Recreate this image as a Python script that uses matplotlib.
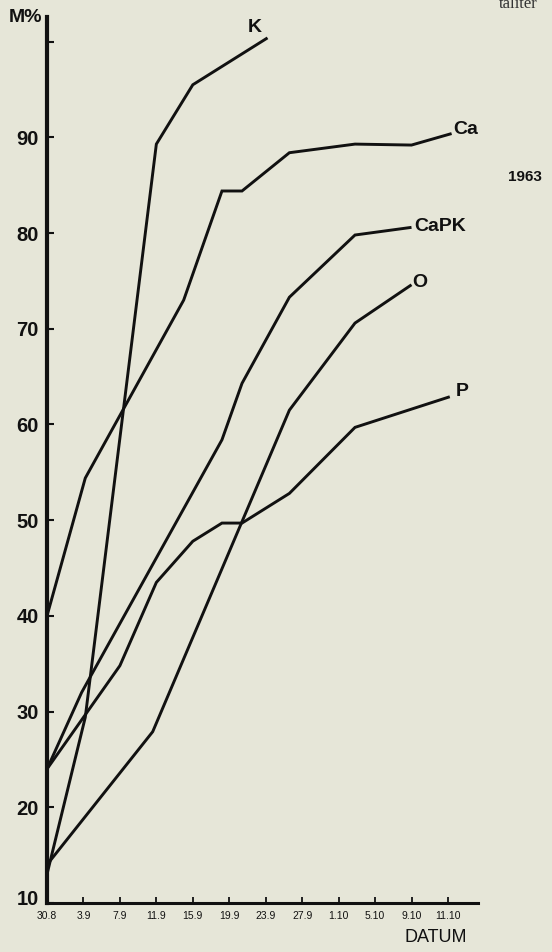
import matplotlib
matplotlib.use("Agg")
import matplotlib.pyplot as plt
from matplotlib.transforms import ScaledTranslation

# ---- data ----
dates = ["30.8", "3.9", "7.9", "11.9", "15.9", "19.9", "23.9", "27.9",
         "1.10", "5.10", "9.10", "11.10"]
y_ticks = [10, 20, 30, 40, 50, 60, 70, 80, 90, 100]
y_labels = ["10", "20", "30", "40", "50", "60", "70", "80", "90", ""]

k_x = [0, 1.05, 3.0, 4.0, 6.05]
k_y = [13.0, 29.4, 89.3, 95.5, 100.4]

ca_x = [0, 1.05, 3.75, 4.8, 5.35, 6.65, 8.45, 10.0, 11.1]
ca_y = [40.0, 54.4, 73.0, 84.4, 84.4, 88.4, 89.3, 89.2, 90.4]

capk_x = [0, 0.95, 4.8, 5.35, 6.65, 8.45, 10.0]
capk_y = [24.0, 32.0, 58.4, 64.3, 73.3, 79.8, 80.6]

o_x = [0, 2.9, 6.65, 8.45, 10.0]
o_y = [14.0, 27.9, 61.5, 70.6, 74.6]

p_x = [0, 2.0, 3.0, 4.0, 4.8, 5.35, 6.65, 8.45, 11.05]
p_y = [24.0, 34.8, 43.5, 47.8, 49.7, 49.7, 52.8, 59.7, 62.9]

series = [
    ("K", k_x, k_y, (-13, 10), "center"),
    ("Ca", ca_x, ca_y, (2, 4), "left"),
    ("CaPK", capk_x, capk_y, (3, 1), "left"),
    ("O", o_x, o_y, (1, 2), "left"),
    ("P", p_x, p_y, (6, 5), "left"),
]

# ---- figure ----
W, H = 552, 952
bg = "#e6e6d8"
ink = "#111111"
fig = plt.figure(figsize=(W / 100, H / 100), dpi=100, facecolor=bg)
font = "Liberation Sans"

left_px, right_px = 47, 478
bottom_px, top_px = 903, 17
ax = fig.add_axes([left_px / W, 1 - bottom_px / H,
                   (right_px - left_px) / W, (bottom_px - top_px) / H])
ax.set_facecolor(bg)
ax.patch.set_alpha(0)

x_span = (right_px - left_px) / 36.45
ax.set_xlim(0, x_span)
ax.set_ylim(10, 10 + (bottom_px - top_px) / 9.57)

for name, xs, ys, off, ha in series:
    ax.plot(xs, ys, color=ink, lw=2.1, solid_joinstyle="miter",
            solid_capstyle="butt", clip_on=False)
    ax.annotate(name, (xs[-1], ys[-1]), xytext=off, textcoords="offset pixels",
                ha=ha, va="center", fontsize=14, fontweight="bold",
                family=font, color=ink)

for s in ["top", "right"]:
    ax.spines[s].set_visible(False)
ax.spines["left"].set_linewidth(3.0)
ax.spines["bottom"].set_linewidth(2.2)
ax.spines["left"].set_color(ink)
ax.spines["bottom"].set_color(ink)

ax.set_yticks(y_ticks)
ax.set_yticklabels(y_labels, fontsize=14.5, fontweight="bold", family=font, color=ink)
ax.tick_params(axis="y", direction="in", length=5, width=1.5, pad=6, colors=ink)
lab10 = ax.get_yticklabels()[0]
lab10.set_transform(lab10.get_transform() + ScaledTranslation(0, 4 / 72, fig.dpi_scale_trans))

ax.set_xticks(list(range(len(dates))))
ax.set_xticklabels(dates, fontsize=7.5, family=font, color=ink)
ax.tick_params(axis="x", direction="in", length=4, width=1.3, pad=6, colors=ink)
ax.get_xticklines()[0].set_visible(False)

fig.text(25 / W, 1 - 17 / H, "M%", ha="center", va="center", fontsize=14,
         fontweight="bold", family=font, color=ink)
fig.text(436 / W, 1 - 938 / H, "DATUM", ha="center", va="center", fontsize=13,
         family=font, color=ink)
fig.text(525 / W, 1 - 177 / H, "1963", ha="center", va="center", fontsize=11,
         fontweight="bold", family=font, color=ink)
fig.text(499 / W, 1 - 4 / H, "taliter", ha="left", va="center", fontsize=12,
         family="Liberation Serif", color="#333333")

fig.savefig("out.png", dpi=100, facecolor=bg)
